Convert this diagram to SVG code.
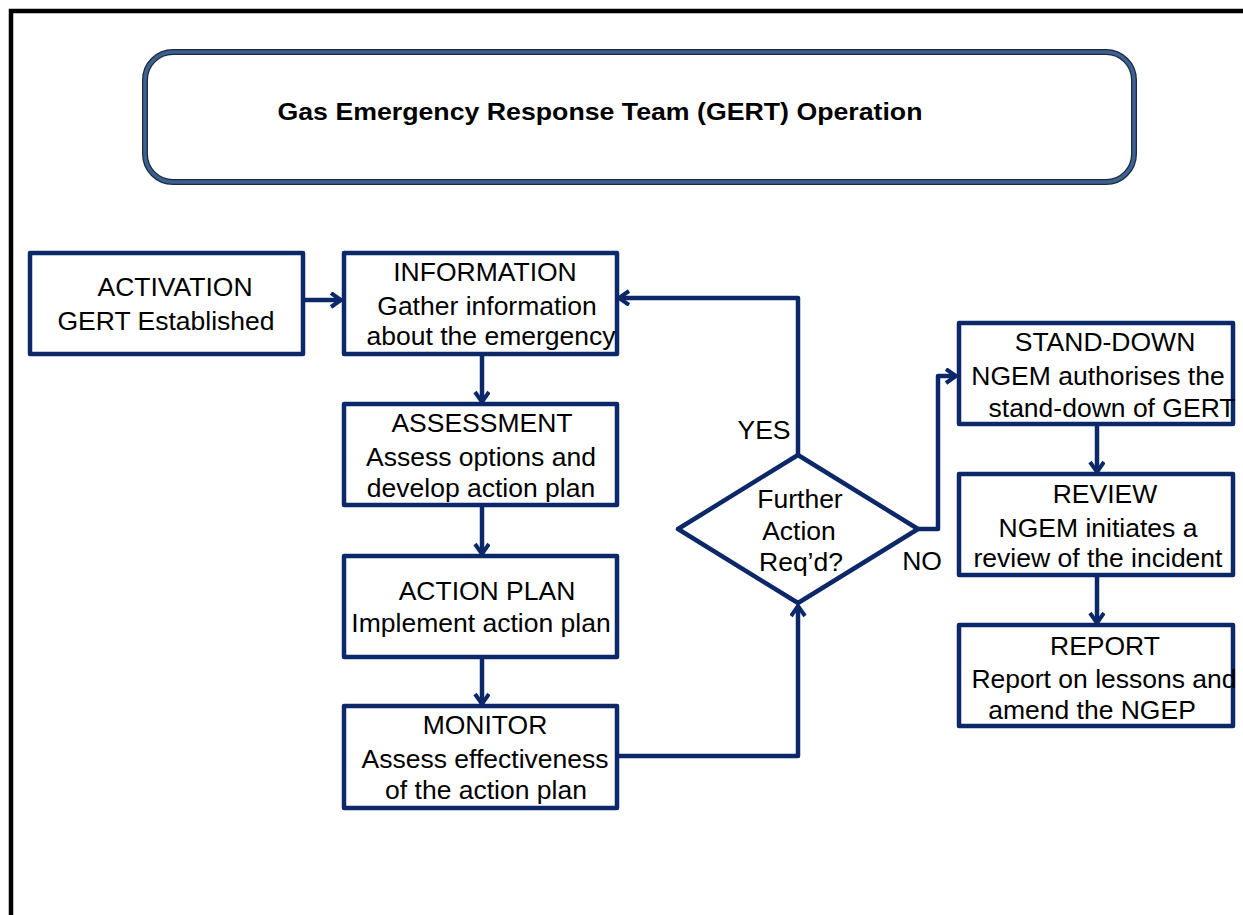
<svg xmlns="http://www.w3.org/2000/svg" width="1243" height="915" viewBox="0 0 1243 915">
<style>
.box{fill:#fff;stroke:#0c2869;stroke-width:4.5;stroke-linejoin:round}
.t{font-family:"Liberation Sans",Arial,sans-serif;font-size:26.5px;fill:#000;text-anchor:middle}
.title{font-family:"Liberation Sans",Arial,sans-serif;font-size:24px;font-weight:bold;fill:#000;text-anchor:middle}
.c{fill:none;stroke:#0c2869;stroke-width:4.5;stroke-linejoin:round}
</style>
<defs>
<marker id="ah" markerUnits="userSpaceOnUse" markerWidth="20" markerHeight="20" refX="12" refY="8" orient="auto">
<path d="M2,1 L12,8 L2,15" fill="none" stroke="#0c2869" stroke-width="4" stroke-linejoin="miter"/>
</marker>
</defs>
<rect x="0" y="0" width="1243" height="915" fill="#fff"/>
<path d="M11,915 L11,11 L1243,11" fill="none" stroke="#000" stroke-width="4.5"/>
<g id="title">
<rect x="145" y="52" width="989" height="130" rx="28" ry="28" fill="#fff" stroke="#1e2a3a" stroke-width="6"/>
<rect x="145" y="52" width="989" height="130" rx="28" ry="28" fill="none" stroke="#3b6193" stroke-width="3.5"/>
<text class="title" x="600" y="120" textLength="645" lengthAdjust="spacingAndGlyphs">Gas Emergency Response Team (GERT) Operation</text>
</g>
<g id="connectors">
<path class="c" d="M303,300 L341,300" marker-end="url(#ah)"/>
<path class="c" d="M482,354 L482,402" marker-end="url(#ah)"/>
<path class="c" d="M482,505 L482,554" marker-end="url(#ah)"/>
<path class="c" d="M482,657 L482,704" marker-end="url(#ah)"/>
<path class="c" d="M617,756 L798,756 L798,606" marker-end="url(#ah)"/>
<path class="c" d="M798,455 L798,298 L619,298" marker-end="url(#ah)"/>
<path class="c" d="M918,529 L938,529 L938,376 L956,376" marker-end="url(#ah)"/>
<path class="c" d="M1097,424 L1097,472" marker-end="url(#ah)"/>
<path class="c" d="M1097,575 L1097,623" marker-end="url(#ah)"/>
</g>
<g id="activation">
<rect class="box" x="30" y="253" width="273" height="101"/>
<text class="t" x="175" y="296">ACTIVATION</text>
<text class="t" x="166" y="330">GERT Established</text>
</g>
<g id="information">
<rect class="box" x="344" y="253" width="273" height="101"/>
<text class="t" x="485" y="281">INFORMATION</text>
<text class="t" x="487" y="315">Gather information</text>
<text class="t" x="491" y="345">about the emergency</text>
</g>
<g id="assessment">
<rect class="box" x="344" y="404" width="273" height="101"/>
<text class="t" x="482" y="432">ASSESSMENT</text>
<text class="t" x="481" y="466">Assess options and</text>
<text class="t" x="481" y="497">develop action plan</text>
</g>
<g id="actionplan">
<rect class="box" x="344" y="556" width="273" height="101"/>
<text class="t" x="487" y="600">ACTION PLAN</text>
<text class="t" x="481" y="632">Implement action plan</text>
</g>
<g id="monitor">
<rect class="box" x="344" y="706" width="273" height="102"/>
<text class="t" x="485" y="734">MONITOR</text>
<text class="t" x="485" y="768">Assess effectiveness</text>
<text class="t" x="486" y="799">of the action plan</text>
</g>
<g id="decision">
<polygon class="box" points="798,455 918,529 798,603 678,529"/>
<text class="t" x="800" y="508">Further</text>
<text class="t" x="799" y="540">Action</text>
<text class="t" x="801" y="571">Req’d?</text>
<text class="t" x="764" y="439">YES</text>
<text class="t" x="922" y="570">NO</text>
</g>
<g id="standdown">
<rect class="box" x="959" y="323" width="274" height="101"/>
<text class="t" x="1105" y="351">STAND-DOWN</text>
<text class="t" x="1098" y="385">NGEM authorises the</text>
<text class="t" x="1112" y="417">stand-down of GERT</text>
</g>
<g id="review">
<rect class="box" x="959" y="474" width="274" height="101"/>
<text class="t" x="1105" y="503">REVIEW</text>
<text class="t" x="1098" y="537">NGEM initiates a</text>
<text class="t" x="1098" y="567">review of the incident</text>
</g>
<g id="report">
<rect class="box" x="959" y="625" width="274" height="101"/>
<text class="t" x="1105" y="655">REPORT</text>
<text class="t" x="1104" y="688">Report on lessons and</text>
<text class="t" x="1092" y="719">amend the NGEP</text>
</g>
</svg>
